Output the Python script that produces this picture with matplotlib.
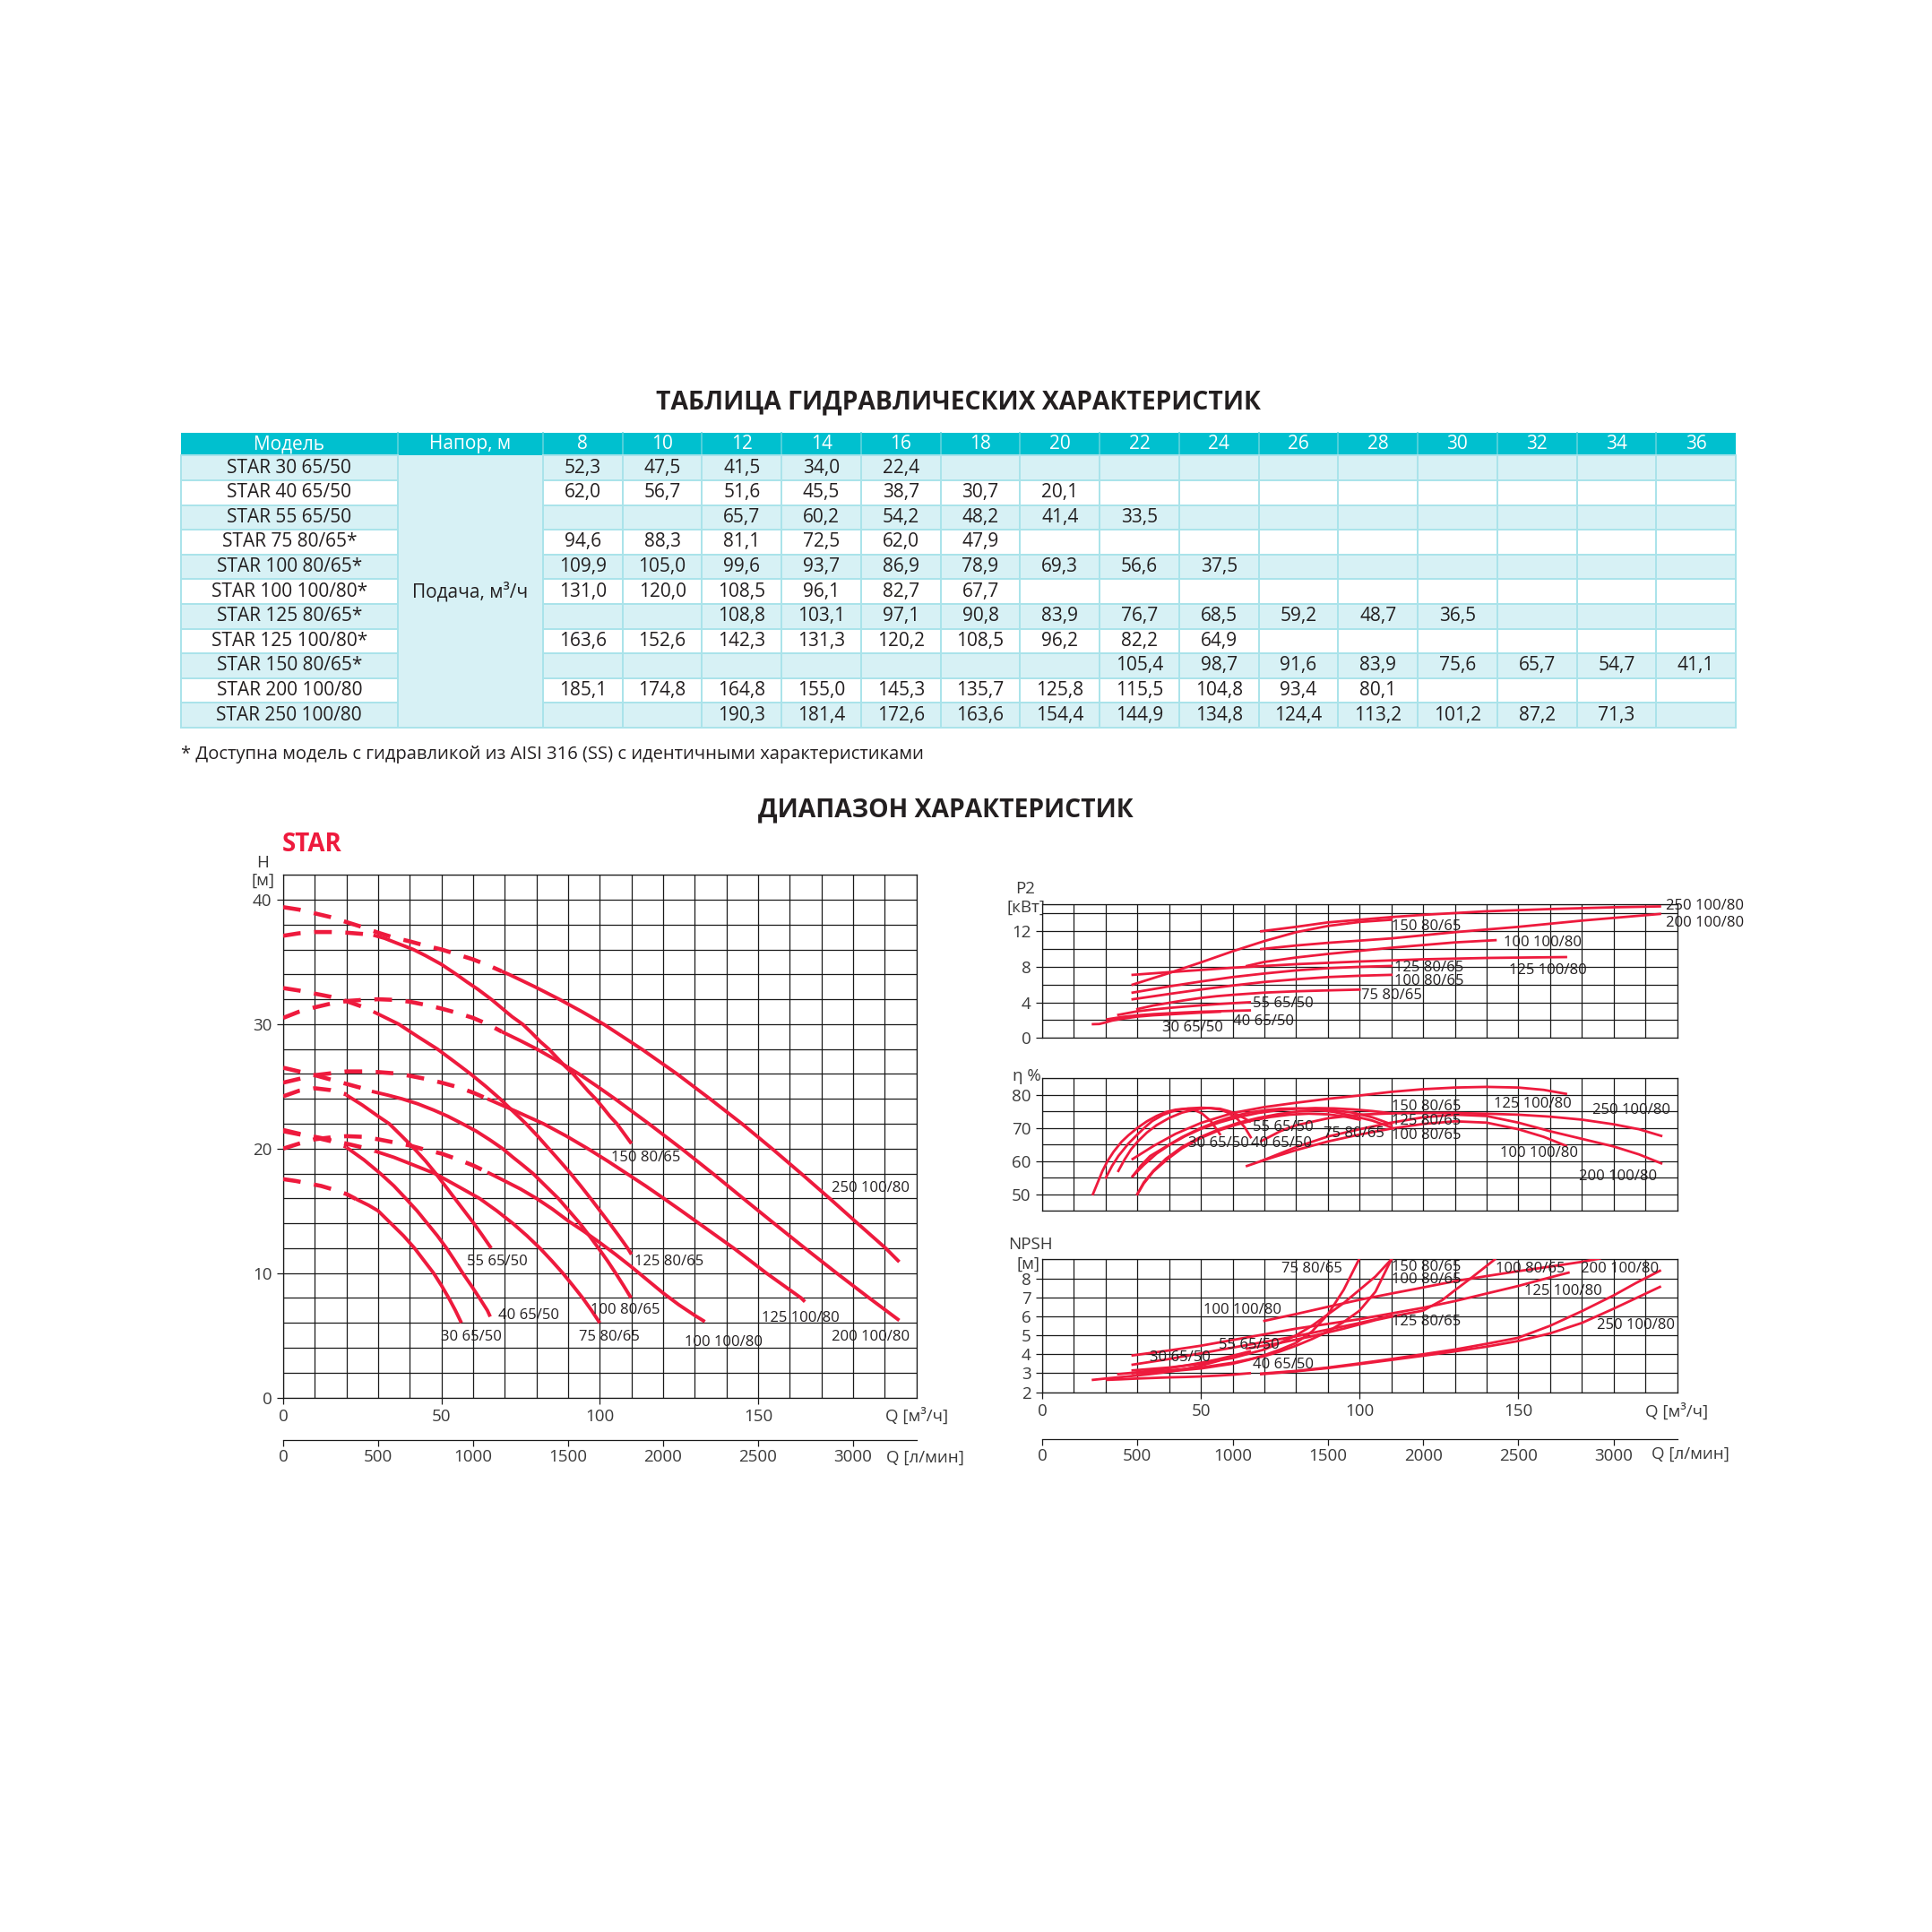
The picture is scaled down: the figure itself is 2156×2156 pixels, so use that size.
import matplotlib
matplotlib.use("Agg")
import matplotlib.pyplot as plt
from matplotlib.patches import Rectangle
import numpy as np

plt.rcParams['font.family'] = ['Open Sans', 'DejaVu Sans']

# ======================= DATA =======================
HEADS = [8, 10, 12, 14, 16, 18, 20, 22, 24, 26, 28, 30, 32, 34, 36]
MODELS = ["STAR 30 65/50", "STAR 40 65/50", "STAR 55 65/50", "STAR 75 80/65*",
          "STAR 100 80/65*", "STAR 100 100/80*", "STAR 125 80/65*", "STAR 125 100/80*",
          "STAR 150 80/65*", "STAR 200 100/80", "STAR 250 100/80"]
N = None
FLOW_30_65_50 = [52.3, 47.5, 41.5, 34.0, 22.4, N, N, N, N, N, N, N, N, N, N]
FLOW_40_65_50 = [62.0, 56.7, 51.6, 45.5, 38.7, 30.7, 20.1, N, N, N, N, N, N, N, N]
FLOW_55_65_50 = [N, N, 65.7, 60.2, 54.2, 48.2, 41.4, 33.5, N, N, N, N, N, N, N]
FLOW_75_80_65 = [94.6, 88.3, 81.1, 72.5, 62.0, 47.9, N, N, N, N, N, N, N, N, N]
FLOW_100_80_65 = [109.9, 105.0, 99.6, 93.7, 86.9, 78.9, 69.3, 56.6, 37.5, N, N, N, N, N, N]
FLOW_100_100_80 = [131.0, 120.0, 108.5, 96.1, 82.7, 67.7, N, N, N, N, N, N, N, N, N]
FLOW_125_80_65 = [N, N, 108.8, 103.1, 97.1, 90.8, 83.9, 76.7, 68.5, 59.2, 48.7, 36.5, N, N, N]
FLOW_125_100_80 = [163.6, 152.6, 142.3, 131.3, 120.2, 108.5, 96.2, 82.2, 64.9, N, N, N, N, N, N]
FLOW_150_80_65 = [N, N, N, N, N, N, N, 105.4, 98.7, 91.6, 83.9, 75.6, 65.7, 54.7, 41.1]
FLOW_200_100_80 = [185.1, 174.8, 164.8, 155.0, 145.3, 135.7, 125.8, 115.5, 104.8, 93.4, 80.1, N, N, N, N]
FLOW_250_100_80 = [N, N, 190.3, 181.4, 172.6, 163.6, 154.4, 144.9, 134.8, 124.4, 113.2, 101.2, 87.2, 71.3, N]
TABLE_ROWS = [FLOW_30_65_50, FLOW_40_65_50, FLOW_55_65_50, FLOW_75_80_65, FLOW_100_80_65,
              FLOW_100_100_80, FLOW_125_80_65, FLOW_125_100_80, FLOW_150_80_65,
              FLOW_200_100_80, FLOW_250_100_80]

# H-Q curves (Q m3/h, H m): dashed low-flow part and solid working part
HQ_DASHED = {
    '30 65/50': ([0, 4, 8, 12, 16, 20, 23], [17.55, 17.4, 17.2, 17.0, 16.7, 16.35, 15.95]),
    '40 65/50': ([0, 5, 10, 15, 20], [21.4, 21.15, 20.9, 20.6, 20.15]),
    '55 65/50': ([0, 5, 10, 15, 20], [24.2, 24.65, 24.85, 24.7, 24.35]),
    '75 80/65': ([0, 5, 10, 15, 20, 25, 29], [21.5, 21.2, 20.95, 20.7, 20.4, 20.1, 19.8]),
    '100 80/65': ([0, 5, 10, 15, 20, 25, 28], [26.5, 26.2, 25.9, 25.55, 25.2, 24.85, 24.6]),
    '100 100/80': ([0, 5, 10, 15, 20, 25, 30, 35, 40, 45, 50, 55, 60, 64.5],
                   [20.0, 20.4, 20.75, 20.9, 21.0, 20.95, 20.75, 20.5, 20.25, 19.9, 19.6, 19.15, 18.65, 18.1]),
    '125 80/65': ([0, 5, 10, 15, 20, 25, 28.5], [32.9, 32.7, 32.45, 32.2, 31.85, 31.4, 31.0]),
    '125 100/80': ([0, 5, 10, 15, 20, 25, 30, 35, 40, 45, 50, 55, 60, 64.5],
                   [25.3, 25.6, 25.9, 26.05, 26.2, 26.2, 26.15, 26.05, 25.85, 25.6, 25.3, 24.95, 24.5, 24.0]),
    '150 80/65': ([0, 5, 10, 15, 20, 25, 28.5], [37.1, 37.3, 37.4, 37.4, 37.35, 37.25, 37.15]),
    '200 100/80': ([0, 5, 10, 15, 20, 25, 30, 35, 40, 45, 50, 55, 60, 65, 69],
                   [30.5, 31.0, 31.35, 31.65, 31.85, 31.95, 32.0, 31.95, 31.8, 31.55, 31.25, 30.9, 30.5, 29.95, 29.4]),
    '250 100/80': ([0, 5, 10, 15, 20, 25, 30, 35, 40, 45, 50, 55, 60, 65, 69],
                   [39.4, 39.2, 38.9, 38.6, 38.2, 37.8, 37.35, 36.95, 36.65, 36.3, 36.0, 35.6, 35.2, 34.7, 34.25]),
}
HQ_SOLID = {
    '30 65/50': ([23, 27, 30, 34, 38, 41.5, 44.5, 47.5, 50, 52.3, 54.4, 56.3],
                 [15.95, 15.45, 15.0, 14.0, 13.0, 12.0, 11.0, 10.0, 9.0, 8.0, 7.0, 6.0]),
    '40 65/50': ([20, 25.5, 30.7, 35, 38.7, 42.3, 45.5, 48.7, 51.6, 54.2, 56.7, 59.4, 62.0, 64.5, 65.4],
                 [20.1, 19.1, 18.0, 17.0, 16.0, 15.0, 14.0, 13.0, 12.0, 11.0, 10.0, 9.0, 8.0, 7.0, 6.5]),
    '55 65/50': ([20, 25, 30, 33.5, 37.5, 41.4, 45, 48.2, 51.2, 54.2, 57.2, 60.2, 63, 65.7],
                 [24.3, 23.5, 22.6, 22.0, 21.0, 20.0, 19.0, 18.0, 17.0, 16.0, 15.0, 14.0, 13.0, 12.0]),
    '75 80/65': ([29, 35, 41, 47.9, 55, 62, 67.5, 72.5, 77, 81.1, 84.8, 88.3, 91.5, 94.6, 97.4, 100],
                 [19.8, 19.3, 18.7, 18.0, 17.0, 16.0, 15.0, 14.0, 13.0, 12.0, 11.0, 10.0, 9.0, 8.0, 7.0, 6.0]),
    '100 80/65': ([28, 33, 37.5, 42.5, 47.5, 52, 56.6, 61, 65.3, 69.3, 72.6, 75.8, 78.9, 82.9, 86.9,
                   90.3, 93.7, 96.7, 99.6, 102.4, 105.0, 107.5, 109.9],
                  [24.6, 24.3, 24.0, 23.6, 23.1, 22.6, 22.0, 21.4, 20.7, 20.0, 19.3, 18.65, 18.0, 17.0,
                   16.0, 15.0, 14.0, 13.0, 12.0, 11.0, 10.0, 9.0, 8.0]),
    '100 100/80': ([64.5, 70, 75, 80, 85, 90, 95, 100, 105, 110, 115, 120, 125, 130, 133.2],
                   [18.1, 17.4, 16.75, 16.0, 15.15, 14.2, 13.35, 12.45, 11.5, 10.5, 9.45, 8.4, 7.45, 6.6, 6.1]),
    '125 80/65': ([28.5, 32.5, 36.5, 42.5, 48.7, 54, 59.2, 64, 68.5, 72.6, 76.7, 80.4, 83.9, 87.4,
                   90.8, 94, 97.1, 100.1, 103.1, 106, 108.8, 110],
                  [31.0, 30.5, 30.0, 29.0, 28.0, 27.0, 26.0, 25.0, 24.0, 23.0, 22.0, 21.0, 20.0, 19.0,
                   18.0, 17.0, 16.0, 15.0, 14.0, 13.0, 12.0, 11.5]),
    '125 100/80': ([64.5, 73.5, 82.2, 89.5, 96.2, 102.5, 108.5, 114.5, 120.2, 125.8, 131.3, 136.8,
                    142.3, 147.5, 152.6, 158.1, 163.6, 164.8],
                   [24.0, 23.0, 22.0, 21.0, 20.0, 19.0, 18.0, 17.0, 16.0, 15.0, 14.0, 13.0,
                    12.0, 11.0, 10.0, 9.0, 8.0, 7.7]),
    '150 80/65': ([28.5, 32, 36, 41.1, 45, 50, 54.7, 58, 61.5, 65.7, 69, 72.3, 75.6, 78.5, 81.2, 83.9,
                   86.5, 89.1, 91.6, 94, 96.4, 98.7, 101, 103.2, 105.4, 107.7, 110],
                  [37.15, 36.9, 36.5, 36.0, 35.5, 34.8, 34.0, 33.4, 32.8, 32.0, 31.3, 30.6, 30.0, 29.3,
                   28.6, 28.0, 27.3, 26.6, 26.0, 25.3, 24.6, 24.0, 23.3, 22.6, 22.0, 21.2, 20.4]),
    '200 100/80': ([69, 74.7, 80.1, 87, 93.4, 99.2, 104.8, 115.5, 125.8, 135.7, 145.3, 155.0, 164.8,
                    174.8, 185.1, 194.6],
                   [29.4, 28.7, 28.0, 27.0, 26.0, 25.0, 24.0, 22.0, 20.0, 18.0, 16.0, 14.0, 12.0,
                    10.0, 8.0, 6.2]),
    '250 100/80': ([69, 71.3, 79.5, 87.2, 94.4, 101.2, 113.2, 124.4, 134.8, 144.9, 154.4, 163.6,
                    172.6, 181.4, 190.3, 194.6],
                   [34.25, 34.0, 33.0, 32.0, 31.0, 30.0, 28.0, 26.0, 24.0, 22.0, 20.0, 18.0,
                    16.0, 14.0, 12.0, 10.9]),
}
HQ_LABELS = {'150 80/65': (103.6, 19.3), '250 100/80': (173.2, 16.8), '55 65/50': (58.0, 10.9),
             '125 80/65': (111.0, 10.9), '40 65/50': (67.8, 6.6), '100 80/65': (97.0, 7.0),
             '125 100/80': (151.2, 6.35), '30 65/50': (49.9, 4.9), '75 80/65': (93.5, 4.9),
             '100 100/80': (126.7, 4.45), '200 100/80': (173.2, 4.9)}

# P2 (kW)
P2_CURVES = {
    '30 65/50': ([16, 18, 20, 22, 25, 30, 35, 40, 45, 50, 56],
                 [1.55, 1.57, 1.75, 1.95, 2.15, 2.4, 2.55, 2.65, 2.75, 2.85, 2.95]),
    '40 65/50': ([20.5, 25, 30, 35, 40, 45, 50, 55, 60, 65.4],
                 [2.1, 2.35, 2.55, 2.68, 2.78, 2.87, 2.95, 3.0, 3.05, 3.1]),
    '55 65/50': ([24, 30, 35, 40, 45, 50, 55, 60, 65.4],
                 [2.6, 3.0, 3.2, 3.38, 3.53, 3.67, 3.8, 3.91, 4.02]),
    '75 80/65': ([30, 35, 40, 45, 50, 55, 60, 70, 80, 90, 100],
                 [3.25, 3.65, 3.95, 4.25, 4.5, 4.7, 4.85, 5.1, 5.25, 5.35, 5.44]),
    '100 80/65': ([28.5, 40, 50, 60, 70, 80, 90, 100, 110],
                  [4.35, 4.95, 5.45, 5.9, 6.3, 6.6, 6.85, 7.0, 7.1]),
    '125 80/65': ([28.5, 40, 50, 60, 70, 80, 90, 100, 110],
                  [5.1, 5.8, 6.35, 6.85, 7.25, 7.6, 7.85, 8.0, 8.1]),
    '150 80/65': ([28.5, 40, 50, 60, 70, 80, 90, 100, 110],
                  [6.0, 7.3, 8.5, 9.75, 10.9, 11.9, 12.6, 13.05, 13.3]),
    '125 100/80': ([28.5, 40, 50, 60, 70, 80, 100, 120, 140, 165],
                   [7.1, 7.4, 7.65, 7.9, 8.1, 8.3, 8.6, 8.85, 9.0, 9.1]),
    '100 100/80': ([64.5, 70, 80, 90, 100, 110, 120, 130, 142.8],
                   [8.1, 8.55, 9.05, 9.45, 9.8, 10.15, 10.45, 10.75, 11.0]),
    '200 100/80': ([69, 80, 90, 100, 110, 130, 150, 170, 194.6],
                   [10.0, 10.4, 10.7, 10.95, 11.2, 11.9, 12.5, 13.2, 13.95]),
    '250 100/80': ([69, 80, 90, 100, 110, 120, 140, 160, 180, 194.6],
                   [12.0, 12.5, 13.0, 13.3, 13.6, 13.85, 14.25, 14.5, 14.7, 14.8]),
}
P2_LABELS = [('250 100/80', 196.4, 14.88), ('200 100/80', 196.4, 12.96), ('150 80/65', 110.2, 12.58),
             ('100 100/80', 145.5, 10.75), ('125 80/65', 111.0, 7.92), ('125 100/80', 147.1, 7.63),
             ('100 80/65', 111.0, 6.43), ('75 80/65', 100.4, 4.8), ('55 65/50', 66.2, 3.84),
             ('40 65/50', 60.0, 1.82), ('30 65/50', 37.8, 1.15)]

# Efficiency (%)
ETA_CURVES = {
    '30 65/50': ([16, 17.5, 19, 20.6, 22.5, 25, 27.2, 30, 33, 36, 39, 42, 45, 48, 50.3, 53.1, 56],
                 [50, 53.5, 57, 60, 62.8, 65.8, 67.8, 70, 72, 73.6, 74.8, 75.5, 75.8, 75.4, 74.4, 72.1, 68.1]),
    '40 65/50': ([20.1, 22, 24, 27.2, 30, 32.5, 34.7, 38, 41, 43.2, 46, 50, 53, 56.4, 59, 61.6, 63.8, 65.7],
                 [55, 58.5, 61.5, 65.3, 68, 70.3, 72.1, 73.9, 75, 75.5, 75.9, 76.1, 76, 75.5, 74.4, 72.6, 70.2, 67.2]),
    '55 65/50': ([24, 26, 28, 30, 33, 36, 40, 44, 48, 52, 56, 59, 62, 65.4],
                 [57, 60.5, 63.5, 65.8, 68.6, 70.8, 73, 74.6, 75.6, 76, 75.8, 75, 73.8, 72]),
    '75 80/65': ([30, 32, 35, 39.4, 44, 49.8, 55, 60.2, 66, 72, 78, 84, 90, 95, 100],
                 [50, 53.2, 56.8, 60.5, 63.8, 66.9, 69, 70.7, 72.2, 73.3, 74, 74.3, 74.1, 73.5, 72.5]),
    '100 80/65': ([28.5, 31, 34, 39.4, 44, 49.8, 55, 60.2, 65, 70.6, 75, 80.6, 86, 92, 98, 104, 110],
                  [55.4, 58.5, 61.5, 64.6, 67.2, 69.9, 71.9, 73.5, 74.6, 75.4, 75.8, 75.9, 75.6, 74.8, 73.6, 72.2, 70.2]),
    '125 80/65': ([30, 32, 35, 39, 44, 50, 56, 62, 68, 74, 80, 86, 92, 98, 104, 110],
                  [50, 53.5, 57, 60.7, 64.2, 67.3, 69.7, 71.6, 73, 74.1, 74.9, 75.3, 75.3, 74.6, 73.2, 71.1]),
    '150 80/65': ([28.5, 32, 36, 40, 45, 50, 56, 62, 68, 74, 80, 86, 92, 98, 104, 110],
                  [55.4, 58.8, 62.2, 64.8, 67.5, 69.7, 71.7, 73.3, 74.5, 75.3, 75.8, 76, 75.9, 75.6, 75.1, 74.4]),
    '125 100/80': ([28.5, 35, 42, 50, 60, 70, 80, 90, 100, 110, 120, 130, 140, 150, 158, 165],
                   [60.6, 64.5, 68.2, 71.5, 74.5, 76.3, 77.6, 78.8, 79.8, 80.9, 81.7, 82.2, 82.4, 82.2, 81.5, 80.3]),
    '100 100/80': ([64.5, 70, 80, 90, 100, 110, 120, 130, 140, 150, 158, 165],
                   [58.5, 60.3, 63.3, 65.9, 68, 69.8, 71.2, 72.0, 71.6, 69.6, 67.3, 64.6]),
    '200 100/80': ([69, 75, 80, 90, 100, 110, 120, 130, 140, 150, 160, 170, 180, 188, 195],
                   [60, 62.3, 64.2, 67.4, 69.6, 71.6, 73.2, 74, 73.6, 71.6, 69, 66.7, 64.4, 62, 59.3]),
    '250 100/80': ([69, 75, 80, 90, 100, 110, 120, 130, 140, 150, 160, 170, 180, 188, 195],
                   [66, 69, 70.8, 72.9, 74, 74.4, 74.5, 74.5, 74.3, 74, 73.4, 72.5, 71.1, 69.6, 67.6]),
}
ETA_LABELS = [('150 80/65', 110.2, 76.4), ('125 100/80', 142.4, 77.1), ('250 100/80', 173.3, 75.2),
              ('55 65/50', 66.2, 70.3), ('125 80/65', 110.2, 72.0), ('75 80/65', 88.7, 68.3),
              ('100 80/65', 110.2, 67.7), ('30 65/50', 45.9, 65.4), ('40 65/50', 65.9, 65.4),
              ('100 100/80', 144.3, 62.3), ('200 100/80', 169.1, 55.2)]

# NPSH (m)
NPSH_CURVES = {
    '30 65/50': ([16, 20, 25, 30, 35, 40, 45, 50, 55.5],
                 [2.65, 2.72, 2.8, 2.88, 2.97, 3.08, 3.22, 3.4, 3.65]),
    '40 65/50': ([20.5, 25, 30, 35, 40, 45, 50, 55, 60, 65.4],
                 [2.65, 2.68, 2.72, 2.75, 2.78, 2.8, 2.83, 2.87, 2.92, 3.0]),
    '55 65/50': ([24, 30, 35, 40, 45, 50, 55, 60, 65.4],
                 [2.95, 3.05, 3.15, 3.27, 3.4, 3.55, 3.72, 3.92, 4.15]),
    '75 80/65': ([30, 40, 50, 60, 65, 70, 75, 80, 85, 90, 95, 99.8],
                 [3.0, 3.1, 3.25, 3.5, 3.7, 3.95, 4.25, 4.6, 5.2, 6.1, 7.4, 9.0]),
    '100 80/65': ([28.5, 40, 50, 60, 70, 75, 80, 85, 90, 95, 100, 105, 110],
                  [3.0, 3.15, 3.3, 3.55, 3.9, 4.15, 4.45, 4.8, 5.2, 5.7, 6.3, 7.3, 9.0]),
    '150 80/65': ([28.5, 40, 50, 60, 70, 75, 80, 85, 90, 95, 100, 105, 110],
                  [3.15, 3.3, 3.5, 3.8, 4.25, 4.6, 5.0, 5.5, 6.1, 6.7, 7.4, 8.1, 9.0]),
    '125 80/65': ([28.5, 40, 50, 60, 70, 80, 90, 100, 110],
                  [3.45, 3.75, 4.05, 4.35, 4.65, 4.95, 5.3, 5.65, 6.03]),
    '125 100/80': ([28.5, 40, 50, 60, 70, 80, 90, 100, 110, 120, 130, 140, 150, 160, 165.8],
                   [3.94, 4.2, 4.45, 4.75, 5.05, 5.35, 5.6, 5.85, 6.15, 6.45, 6.8, 7.2, 7.6, 8.05, 8.3]),
    '100 100/80': ([70, 80, 90, 100, 110, 120, 130, 140, 150, 160, 170, 175.7],
                   [5.76, 6.12, 6.5, 6.87, 7.2, 7.52, 7.85, 8.12, 8.38, 8.62, 8.87, 9.05]),
    '100 100/80 b': ([64.5, 75, 85, 95, 105, 112, 120, 126, 130, 135, 142.6],
                     [4.3, 4.6, 4.95, 5.35, 5.8, 6.05, 6.3, 6.85, 7.37, 8.0, 9.0]),
    '200 100/80': ([69, 80, 90, 100, 110, 120, 130, 140, 150, 160, 170, 180, 187, 194.6],
                   [2.98, 3.12, 3.3, 3.52, 3.75, 4.0, 4.25, 4.55, 4.87, 5.5, 6.27, 7.1, 7.75, 8.4]),
    '250 100/80': ([69, 80, 90, 100, 110, 120, 130, 140, 150, 160, 170, 180, 187, 194.6],
                   [2.95, 3.1, 3.27, 3.48, 3.7, 3.92, 4.15, 4.4, 4.7, 5.1, 5.65, 6.4, 6.95, 7.55]),
}
NPSH_LABELS = [('75 80/65', 75.5, 8.49), ('150 80/65', 110.2, 8.6), ('100 80/65', 110.2, 7.95),
               ('100 80/65', 142.7, 8.49), ('200 100/80', 169.6, 8.49), ('125 100/80', 152.0, 7.3),
               ('100 100/80', 50.8, 6.34), ('125 80/65', 110.2, 5.72), ('250 100/80', 174.8, 5.54),
               ('55 65/50', 55.7, 4.5), ('30 65/50', 34.0, 3.83), ('40 65/50', 66.2, 3.45)]

LPM_TICKS = [0, 500, 1000, 1500, 2000, 2500, 3000]

# ======================= STYLE =======================
W = H = 2156
RED = '#EE1A3D'
TXT = '#231F20'
TICKC = '#3A3A3A'
GRID = '#1A1A1A'
CYAN = '#00C0CF'
LIGHT = '#D7F1F5'
TLINE = '#A9E3EA'

fig = plt.figure(figsize=(W / 100, H / 100), dpi=100)
fig.patch.set_facecolor('white')

bg = fig.add_axes([0, 0, 1, 1])
bg.set_xlim(0, W)
bg.set_ylim(H, 0)
bg.axis('off')

# ---------------- table ----------------
bg.text(1069, 449, 'ТАБЛИЦА ГИДРАВЛИЧЕСКИХ ХАРАКТЕРИСТИК', ha='center', va='center',
        fontsize=20.3, fontweight='bold', color=TXT)
TL, TR = 202, 1937
X_MOD, X_NAP = 443.5, 606
colw = (TR - X_NAP) / len(HEADS)
TOP, HB, RH = 482.7, 508.3, 27.6
nrows = len(MODELS)
BOT = HB + nrows * RH

bg.add_patch(Rectangle((TL, TOP), TR - TL, HB - TOP, fc=CYAN, ec='none', zorder=1))
for i in range(nrows):
    y0 = HB + i * RH
    bg.add_patch(Rectangle((TL, y0), TR - TL, RH, fc=LIGHT if i % 2 == 0 else 'white',
                           ec='none', zorder=1))
bg.add_patch(Rectangle((X_MOD, HB), X_NAP - X_MOD, nrows * RH, fc=LIGHT, ec='none', zorder=1.5))

col_edges = [X_MOD, X_NAP] + [X_NAP + k * colw for k in range(1, len(HEADS))]
for x in col_edges:
    bg.plot([x, x], [TOP, HB], color='#5ED3DC', lw=1.2, zorder=2)
for x in [TL] + col_edges + [TR]:
    bg.plot([x, x], [HB, BOT], color=TLINE, lw=1.4, zorder=2)
for i in range(nrows + 1):
    y = HB + i * RH
    bg.plot([TL, X_MOD], [y, y], color=TLINE, lw=1.4, zorder=2)
    bg.plot([X_NAP, TR], [y, y], color=TLINE, lw=1.4, zorder=2)
bg.plot([X_MOD, X_NAP], [BOT, BOT], color=TLINE, lw=1.4, zorder=2)

tfs = 15
bg.text((TL + X_MOD) / 2, (TOP + HB) / 2, 'Модель', ha='center', va='center', color='white',
        fontsize=tfs, zorder=3)
bg.text((X_MOD + X_NAP) / 2, (TOP + HB) / 2, 'Напор, м', ha='center', va='center', color='white',
        fontsize=tfs, zorder=3)
for k, h in enumerate(HEADS):
    bg.text(X_NAP + (k + 0.5) * colw, (TOP + HB) / 2, str(h), ha='center', va='center',
            color='white', fontsize=tfs, zorder=3)
for i, (m, row) in enumerate(zip(MODELS, TABLE_ROWS)):
    yc = HB + (i + 0.5) * RH
    bg.text((TL + X_MOD) / 2, yc, m, ha='center', va='center', color=TXT, fontsize=tfs, zorder=3)
    for k, v in enumerate(row):
        if v is not None:
            bg.text(X_NAP + (k + 0.5) * colw, yc, f"{v:.1f}".replace('.', ','), ha='center',
                    va='center', color=TXT, fontsize=tfs, zorder=3)
bg.text((X_MOD + X_NAP) / 2, HB + 5.5 * RH, 'Подача, м³/ч', ha='center', va='center', color=TXT,
        fontsize=tfs, zorder=3)
bg.text(TL, 842, '* Доступна модель с гидравликой из AISI 316 (SS) с идентичными характеристиками',
        ha='left', va='center', color=TXT, fontsize=14.5)

bg.text(1055, 904, 'ДИАПАЗОН ХАРАКТЕРИСТИК', ha='center', va='center', fontsize=20.3,
        fontweight='bold', color=TXT)
bg.text(315, 942, 'STAR', ha='left', va='center', fontsize=20, fontweight='bold', color=RED)

# axis captions
cap = dict(ha='center', va='center', color=TICKC, fontsize=13.5)
bg.text(293, 963, 'H', **cap)
bg.text(293, 983, '[м]', **cap)
bg.text(1144, 992, 'P2', **cap)
bg.text(1145, 1013, '[кВт]', **cap)
bg.text(1146, 1201, 'η %', **cap)
bg.text(1150, 1389, 'NPSH', **cap)
bg.text(1147, 1411, '[м]', **cap)


def style(ax, xmaj, xmin, ymaj, ymin, xlabels):
    ax.set_xticks(xmaj)
    ax.set_xticks(xmin, minor=True)
    ax.set_yticks(ymaj)
    ax.set_yticks(ymin, minor=True)
    ax.grid(True, which='both', color=GRID, lw=0.9)
    ax.set_axisbelow(True)
    ax.tick_params(which='major', length=5, width=0.9, color=GRID, labelsize=13.5,
                   labelcolor=TICKC, pad=4.0)
    ax.tick_params(which='minor', length=0)
    if not xlabels:
        ax.tick_params(axis='x', which='major', labelbottom=False, length=0)
    for s in ax.spines.values():
        s.set_color(GRID)
        s.set_linewidth(0.9)


def lpm_axis(ax, loc, x_label_q, y_label):
    sec = ax.secondary_xaxis(loc, functions=(lambda q: q * 1000 / 60, lambda l: l * 60 / 1000))
    sec.set_xticks(LPM_TICKS)
    sec.tick_params(length=5, width=0.9, color=GRID, labelsize=13.5, labelcolor=TICKC, pad=2.5)
    sec.spines['bottom'].set_color(GRID)
    sec.spines['bottom'].set_linewidth(0.9)
    ax.text(x_label_q, y_label, 'Q [л/мин]', ha='left', va='center', color=TICKC, fontsize=13.5,
            clip_on=False)


# ---------------- left H-Q chart ----------------
x0, x1 = 316, 1022.6
y0, y1 = 976.2, 1559.6
axL = fig.add_axes([x0 / W, 1 - y1 / H, (x1 - x0) / W, (y1 - y0) / H])
axL.set_xlim(0, 200)
axL.set_ylim(0, 42)
style(axL, [0, 50, 100, 150], np.arange(0, 201, 10), [0, 10, 20, 30, 40], np.arange(0, 43, 2), True)
for name, (q, h) in HQ_DASHED.items():
    axL.plot(q, h, color=RED, lw=3.3, ls=(0, (4.3, 3.3)), dash_capstyle='butt', zorder=3)
for name, (q, h) in HQ_SOLID.items():
    axL.plot(q, h, color=RED, lw=2.8, solid_capstyle='butt', solid_joinstyle='round', zorder=3)
for name, (q, h) in HQ_LABELS.items():
    axL.text(q, h, name, ha='left', va='center', fontsize=12, color=TXT, zorder=4, clip_on=False)
axL.text(200, -1.5, 'Q [м³/ч]', ha='center', va='center', color=TICKC, fontsize=13.5, clip_on=False)
lpm_axis(axL, -0.0813, 190.5, -4.85)

# ---------------- right charts ----------------
rx0, rx1 = 1163, 1871.5


def right_axes(ytop, ybot):
    return fig.add_axes([rx0 / W, 1 - ybot / H, (rx1 - rx0) / W, (ybot - ytop) / H])


axP = right_axes(1009.5, 1158.3)
axP.set_xlim(0, 200)
axP.set_ylim(0, 15)
style(axP, [0, 50, 100, 150], np.arange(0, 201, 10), [0, 4, 8, 12], [0, 2, 4, 6, 8, 10, 12, 14, 15], False)

axE = right_axes(1203.3, 1351.0)
axE.set_xlim(0, 200)
axE.set_ylim(45, 85)
style(axE, [0, 50, 100, 150], np.arange(0, 201, 10), [50, 60, 70, 80], np.arange(45, 86, 5), False)

axN = right_axes(1405.4, 1553.6)
axN.set_xlim(0, 200)
axN.set_ylim(2, 9)
style(axN, [0, 50, 100, 150], np.arange(0, 201, 10), [2, 3, 4, 5, 6, 7, 8], np.arange(2, 10, 1), True)

for ax, curves, labels in [(axP, P2_CURVES, P2_LABELS), (axE, ETA_CURVES, ETA_LABELS),
                           (axN, NPSH_CURVES, NPSH_LABELS)]:
    for name, (q, v) in curves.items():
        ax.plot(q, v, color=RED, lw=2.0, solid_joinstyle='round', zorder=3, clip_on=True)
    for name, q, v in labels:
        ax.text(q, v, name, ha='left', va='center', fontsize=12, color=TXT, zorder=4, clip_on=False)

# NPSH x captions
n_per_px = 7 / (1553.6 - 1405.4)
axN.text(200, 2 - (1575 - 1553.6) * n_per_px, 'Q [м³/ч]', ha='center', va='center', color=TICKC,
         fontsize=13.5, clip_on=False)
lpm_axis(axN, -(1606 - 1553.6) / (1553.6 - 1405.4), 192, 2 - (1623 - 1553.6) * n_per_px)

fig.savefig('out.png', dpi=100)
